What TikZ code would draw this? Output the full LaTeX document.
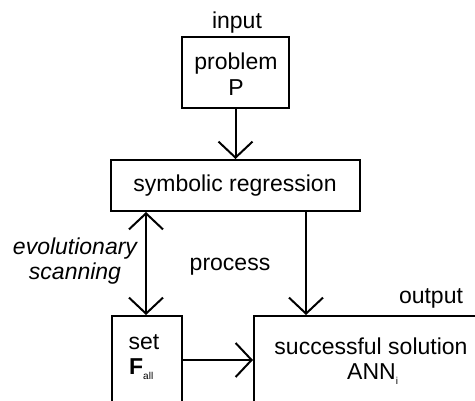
\documentclass[tikz,border=0pt]{standalone}
\usepackage{fontspec}
\setmainfont{Liberation Sans}
\usetikzlibrary{arrows.meta}
\newcommand{\lowsub}[1]{\raisebox{-5pt}{\fontsize{10}{10}\selectfont #1}}
\tikzset{
  box/.style={draw, line width=2pt, inner sep=0pt},
  lbl/.style={inner sep=0pt, anchor=base},
  barb/.tip={Straight Barb[length=16pt,width=34pt,line width=2pt]},
  flow/.style={line width=2pt, -barb},
  both/.style={line width=2pt, barb-barb}
}
\begin{document}
\begin{tikzpicture}[x=1pt, y=-1pt, font=\fontsize{23}{27}\selectfont]
  \useasboundingbox (0,0) rectangle (475,401);
  \clip (0,0) rectangle (475,401);
  \fill[white] (0,0) rectangle (475,401);

  % boxes
  \node[box, minimum width=107pt, minimum height=71pt] (prob) at (235.5,72.5) {};
  \node[box, minimum width=249pt, minimum height=51pt] (sr) at (235.5,185.5) {};
  \node[box, minimum width=70pt, minimum height=88pt] (set) at (147,360) {};
  \node[box, minimum width=252pt, minimum height=88pt] (out) at (380,360) {};

  % texts
  \node[lbl] (inp) at (237,29) {input};
  \node[lbl] (probt) at (236,70) {problem};
  \node[lbl] (probp) at (236,96) {P};
  \node[lbl] (srt) at (235,192) {symbolic regression};
  \node[lbl, font=\fontsize{23}{27}\selectfont\itshape] (evo1) at (75,255) {evolutionary};
  \node[lbl, font=\fontsize{23}{27}\selectfont\itshape] (evo2) at (75,280) {scanning};
  \node[lbl] (proc) at (230,271) {process};
  \node[lbl] (outl) at (431,304) {output};
  \node[lbl] (sett) at (144,350) {set};
  \node[lbl, anchor=base west] (fall) at (129,375) {\textbf{F}\lowsub{all}};
  \node[lbl] (succ) at (371,355) {successful solution};
  \node[lbl, anchor=base west] (ann) at (347,380) {ANN\lowsub{i}};

  % connectors
  \coordinate (kx) at (306,0);
  \coordinate (sx) at (146,0);
  \draw[flow] (prob.south) -- (sr.north);
  \draw[both] (sr.south -| sx) -- (set.north -| sx);
  \draw[flow] (sr.south -| kx) -- (out.north -| kx);
  \draw[flow] (set.east) -- (out.west);
\end{tikzpicture}
\end{document}
